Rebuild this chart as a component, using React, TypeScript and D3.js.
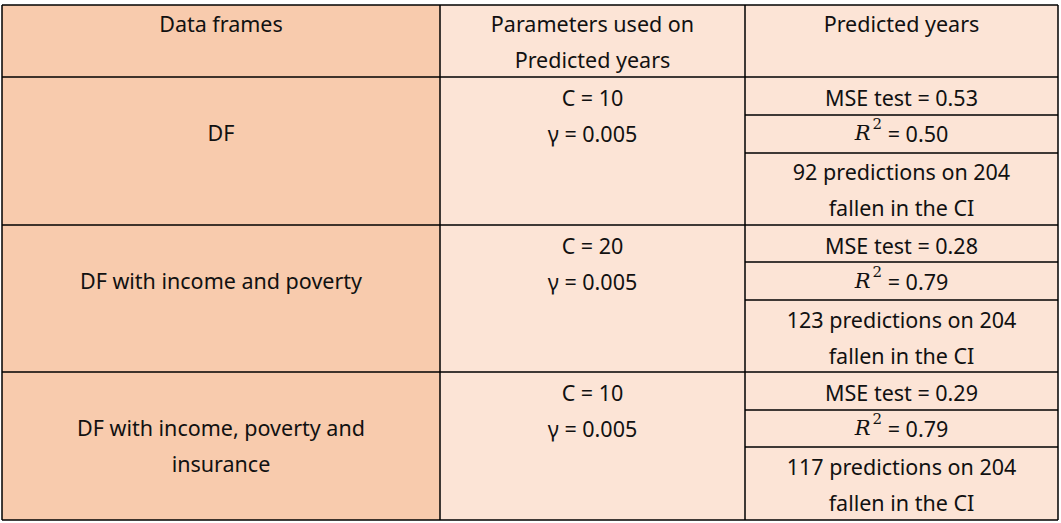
import React from 'react'
import { scaleOrdinal } from 'd3'

const headers = [['Data frames'], ['Parameters used on', 'Predicted years'], ['Predicted years']]
const frames = [['DF'], ['DF with income and poverty'], ['DF with income, poverty and', 'insurance']]
const cValues = [10, 20, 10]
const gammaValues = ['0.005', '0.005', '0.005']
const mseValues = ['0.53', '0.28', '0.29']
const r2Values = ['0.50', '0.79', '0.79']
const inCI = [92, 123, 117]
const total = 204

const colX = [2, 440, 745, 1058]
const rowY = [5, 77, 225, 372, 520]
const subRows = [[0, 38, 76], [0, 37, 75], [0, 38, 75]]
const fill = scaleOrdinal<number, string>().domain([0, 1, 2]).range(['#F8CBAD', '#FCE4D6', '#FCE4D6'])
const font = "'Noto Sans', sans-serif"
const lh = 36

function Lines({ x, y, lines }: { x: number, y: number, lines: React.ReactNode[] }) {
  return <>{lines.map((l, i) => (
    <text key={i} x={x} y={y + i * lh} textAnchor='middle' dominantBaseline='central'
      fontFamily={font} fontSize={21.5} fill='#111'>{l}</text>
  ))}</>
}

export default function App() {
  const cx = (c: number) => (colX[c] + colX[c + 1]) / 2
  return (
    <svg width={1061} height={523} style={{ position: 'absolute', left: 0, top: 0, background: '#fff' }}>
      {[0, 1, 2].map(c => (
        <rect key={c} x={colX[c]} y={rowY[0]} width={colX[c + 1] - colX[c]} height={rowY[4] - rowY[0]} fill={fill(c)} />
      ))}
      {headers.map((h, c) => <Lines key={c} x={cx(c)} y={23} lines={h} />)}
      {frames.map((f, r) => {
        const y0 = rowY[r + 1]
        return (
          <g key={r}>
            <Lines x={cx(0)} y={y0 + 55} lines={f} />
            <Lines x={cx(1)} y={y0 + 20} lines={[`C = ${cValues[r]}`, `γ = ${gammaValues[r]}`]} />
            <Lines x={cx(2)} y={y0 + 20} lines={[`MSE test = ${mseValues[r]}`]} />
            <text x={cx(2)} y={y0 + 56} textAnchor='middle' dominantBaseline='central' fontSize={22} fill='#111'>
              <tspan fontFamily="'DejaVu Serif', serif" fontStyle='italic' fontSize={21}>R</tspan>
              <tspan fontFamily="'DejaVu Serif', serif" fontSize={15} dx={2} dy={-9}>2</tspan>
              <tspan fontFamily={font} fontSize={21.5} dy={9}>{` = ${r2Values[r]}`}</tspan>
            </text>
            <Lines x={cx(2)} y={y0 + 94} lines={[`${inCI[r]} predictions on ${total}`, 'fallen in the CI']} />
            {subRows[r].slice(1).map((d, i) => (
              <line key={i} x1={colX[2]} x2={colX[3]} y1={y0 + d} y2={y0 + d} stroke='#000' strokeWidth={1.3} />
            ))}
          </g>
        )
      })}
      {rowY.map((y, i) => <line key={i} x1={colX[0]} x2={colX[3]} y1={y} y2={y} stroke='#000' strokeWidth={1.5} />)}
      {colX.map((x, i) => <line key={i} x1={x} x2={x} y1={rowY[0]} y2={rowY[4]} stroke='#000' strokeWidth={1.5} />)}
    </svg>
  )
}
